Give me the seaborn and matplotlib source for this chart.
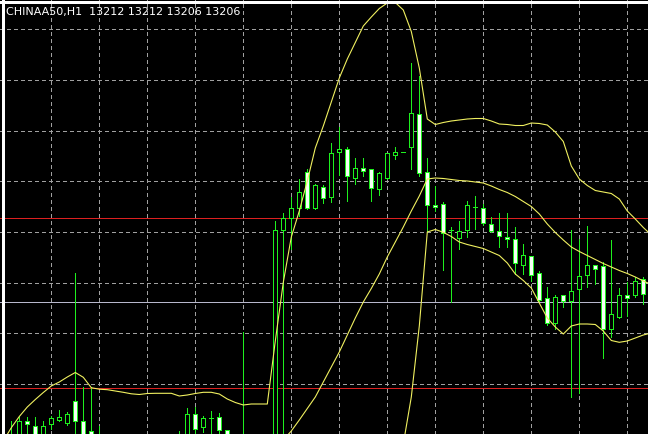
import numpy as np
import pandas as pd
import matplotlib
matplotlib.use('Agg')
import matplotlib.pyplot as plt
import seaborn as sns

# header of the MT4 chart window
title_text = 'CHINAA50,H1  13212 13212 13206 13206'

# OHLC per H1 bar (chart level units, 0 = bottom edge of the window)
nan = np.nan
opens = [-5, -10, -7, 13, 7.7, -5, 9.3, 14, 10.3, 32.7,
         13, 2.3, -5, nan, nan, nan, nan, nan, nan, nan,
         nan, nan, -13, -2, 20, 6.3, 16, 17, 3.7, nan,
         -11, nan, nan, nan, -17, 203.3, 215.7, 226, 261.7, 225.7,
         246.7, 236.7, 281.7, 285, 255.7, 265.7, 264.3, 245, 255.7, 278.3,
         281.3, 286.7, 319.3, 261.7, 229, 230, 203.3, 196, 203.3, 226.7,
         225.7, 209.3, 202.7, 196.7, 194.3, 168.3, 177.3, 161, 135.7, 110.7,
         138.3, 132.3, 145, 159, 168.3, 167.3, 105, 116.7, 138.3, 139,
         155, nan]
highs = [15, 13.3, 17.3, 17.3, 17, 12.7, 18.3, 24, 21.7, 161,
         47, 47.5, 8, nan, nan, nan, nan, nan, nan, nan,
         nan, nan, 3.3, 26, 26.7, 18.5, 22.7, 21, 4, nan,
         101.7, nan, nan, nan, 213.3, 220.7, 236.7, 255, 265, 250,
         249, 290.7, 306.7, 286.7, 275.7, 275.7, 265, 262.3, 281, 286.7,
         281.5, 371, 357.7, 275.7, 247.7, 231.7, 207.3, 213.3, 233.3, 237.7,
         230, 217.3, 221, 221, 206.7, 190, 177.5, 163.3, 146.7, 139,
         138.5, 204.3, 195, 207.7, 169, 171.7, 194.3, 146, 151.7, 156.7,
         156.7, nan]
lows = [-15, -15, -13, -2, -10, -10, 5, 13.3, 9, -2,
        -10, -13, -15, nan, nan, nan, nan, nan, nan, nan,
        nan, nan, -17, -7, -5, 2, -5, -5, -13, nan,
        -20, nan, nan, nan, -25, -5, 185, 218.3, 225, 225,
        231, 232.3, 259, 233.3, 250, 257.7, 233.3, 239.3, 255.5, 275,
        281, 265, 258.3, 202.3, 222.7, 164, 132.3, 185, 196.7, 205,
        209.3, 201.7, 187.3, 186.7, 160, 160, 153.3, 133, 109, 105,
        126.7, 36.7, 41, 146.7, 150, 75.7, 96.7, 116, 118.3, 136.7,
        130, nan]
closes = [-3, -3, 13, 9.3, -5, 8, 16, 16.7, 20, 12.7,
          -5, -7, -10, nan, nan, nan, nan, nan, nan, nan,
          nan, nan, -5, 19.3, 5, 15.3, 16, 4, -7, nan,
          -5, nan, nan, nan, 203.3, 215.7, 225.7, 241.7, 225.7, 249,
          236, 280.7, 285, 257.7, 265.7, 263, 245.7, 260.7, 280.7, 281.7,
          281.3, 320.7, 261, 229, 226.3, 201, 203.5, 202.7, 229, 226.5,
          211, 202.7, 197.7, 194.3, 171, 178.3, 159, 134, 110.7, 136.3,
          132.3, 142.3, 157.7, 169, 165, 105, 119.3, 138.3, 135.7, 152.7,
          140, nan]

# Bollinger bands (nan where the band is below the visible window)
bb_upper = [-7, 6.3, 17.5, 27, 34.5, 41.5, 48, 52, 57, 61.5,
            56.7, 46.3, 44.8, 44.3, 43, 41.7, 40.2, 39.5, 40.5, 40.7,
            40.7, 40.7, 38, 39, 40.5, 41.7, 41.7, 40, 35, 31.5,
            29, 30, 30, 30, 93, 151.7, 197, 223, 253, 286,
            308, 332, 356, 375, 391.5, 408, 417, 425.5, 431, 431.5,
            424, 402.5, 366, 315, 309.5, 311.5, 313, 314, 315, 315.5,
            315.5, 313, 310, 309.5, 308.5, 308.5, 311, 310.5, 309, 302,
            292.5, 268, 255, 248.5, 243.5, 242, 240.5, 235, 223, 215,
            206.5, 199]
bb_middle = [nan, nan, nan, nan, nan, nan, nan, nan, nan, nan,
             nan, nan, nan, nan, nan, nan, nan, nan, nan, nan,
             nan, nan, nan, nan, nan, nan, nan, nan, nan, nan,
             nan, nan, nan, nan, -12, -6, 3, 14, 25.5, 37,
             52, 67, 82, 99, 116, 132, 145.5, 160, 177, 192,
             207, 223, 238, 255, 256, 255.5, 254.5, 253.5, 253, 252,
             251, 248, 244.5, 241.5, 237.5, 232.5, 227.5, 220, 210, 201.5,
             194, 187, 182.5, 178.5, 174.5, 170.5, 167, 163.5, 160.5, 157,
             153, 149.5]
bb_lower = [nan, nan, nan, nan, nan, nan, nan, nan, nan, nan,
            nan, nan, nan, nan, nan, nan, nan, nan, nan, nan,
            nan, nan, nan, nan, nan, nan, nan, nan, nan, nan,
            nan, nan, nan, nan, nan, nan, nan, nan, nan, nan,
            nan, nan, nan, nan, nan, nan, nan, nan, -40, -20,
            -10, 37, 108, 202, 204.5, 201.7, 197.5, 192, 189.5, 187.5,
            185.5, 182, 178.5, 171, 160, 153.5, 146, 131, 116, 107,
            100, 108, 110, 110, 109.5, 103, 93.5, 91.7, 93, 96,
            99, 101]

red_levels = [216.3, 46.3]
bid_level = 132.3
grid_levels = [50.0, 100.7, 151.4, 202.1, 252.8, 303.5, 354.2, 404.9]
grid_bars = [6, 12, 18, 24, 30, 36, 42, 48, 54, 60, 66, 72, 78]

bars = pd.DataFrame({'open': opens, 'high': highs, 'low': lows, 'close': closes})
bars['bar'] = np.arange(len(bars))
bars = bars.dropna()

bands = pd.DataFrame({'bar': np.arange(len(bb_upper)),
                      'upper': bb_upper, 'middle': bb_middle, 'lower': bb_lower})
bands = bands.melt(id_vars='bar', var_name='band', value_name='level').dropna()

sns.set_theme(style='dark')
plt.rcParams['font.family'] = ['DejaVu Sans']

lime = '#1ef01e'
band_col = '#f0f060'

fig = plt.figure(figsize=(6.48, 4.35), dpi=100, facecolor='black')
ax = fig.add_axes([0, 0, 1, 1])
ax.set_facecolor('black')

ax.set_xlim(-0.4125, 80.5875)
ax.set_ylim(0, 435)
ax.set_xticks(grid_bars)
ax.set_yticks(grid_levels)
ax.tick_params(length=0, labelbottom=False, labelleft=False)
ax.grid(True, color='#a0a0a0', linestyle=(0, (4, 4)), linewidth=0.72, antialiased=False)
ax.set_axisbelow(True)
for s in ax.spines.values():
    s.set_visible(False)

# horizontal levels
for lv in red_levels:
    ax.axhline(lv, color='#dc2020', lw=0.72, zorder=1, antialiased=False)
ax.axhline(bid_level, color='#b8b8cc', lw=0.72, zorder=1, antialiased=False)

# candles: wicks, then a green body block, then the inner fill
# (bull = black inside, bear = white inside)
ax.vlines(bars['bar'], bars['low'], bars['high'], colors=lime, linewidths=0.72,
          zorder=2, antialiased=False)
bull = bars['close'] >= bars['open']
body_bottom = np.minimum(bars['open'], bars['close'])
body_height = (bars['close'] - bars['open']).abs()
ax.bar(bars['bar'], body_height + 1, bottom=body_bottom - 0.5, width=0.625,
       color=lime, linewidth=0, zorder=3, antialiased=False)
inner = body_height > 1.5
ax.bar(bars['bar'][inner & bull], body_height[inner & bull] - 1,
       bottom=body_bottom[inner & bull] + 0.5, width=0.375,
       color='black', linewidth=0, zorder=3.5, antialiased=False)
ax.bar(bars['bar'][inner & ~bull], body_height[inner & ~bull] - 1,
       bottom=body_bottom[inner & ~bull] + 0.5, width=0.375,
       color='#f6fff6', linewidth=0, zorder=3.5, antialiased=False)

# Bollinger bands
sns.lineplot(data=bands, x='bar', y='level', hue='band', units='band', estimator=None,
             palette={'upper': band_col, 'middle': band_col, 'lower': band_col},
             legend=False, linewidth=0.8, ax=ax, zorder=4)
ax.set_xlim(-0.4125, 80.5875)
ax.set_ylim(0, 435)
ax.set_xlabel('')
ax.set_ylabel('')

# window frame (left and top)
ax.axvline(-0.075, color='white', lw=0.8, zorder=5, antialiased=False)
ax.axhline(432.3, color='white', lw=0.8, zorder=5, antialiased=False)

fig.text(6 / 648, 1 - 12 / 435, title_text, color='white', fontsize=8,
         ha='left', va='center')

fig.savefig('out.png', dpi=100, facecolor='black')
